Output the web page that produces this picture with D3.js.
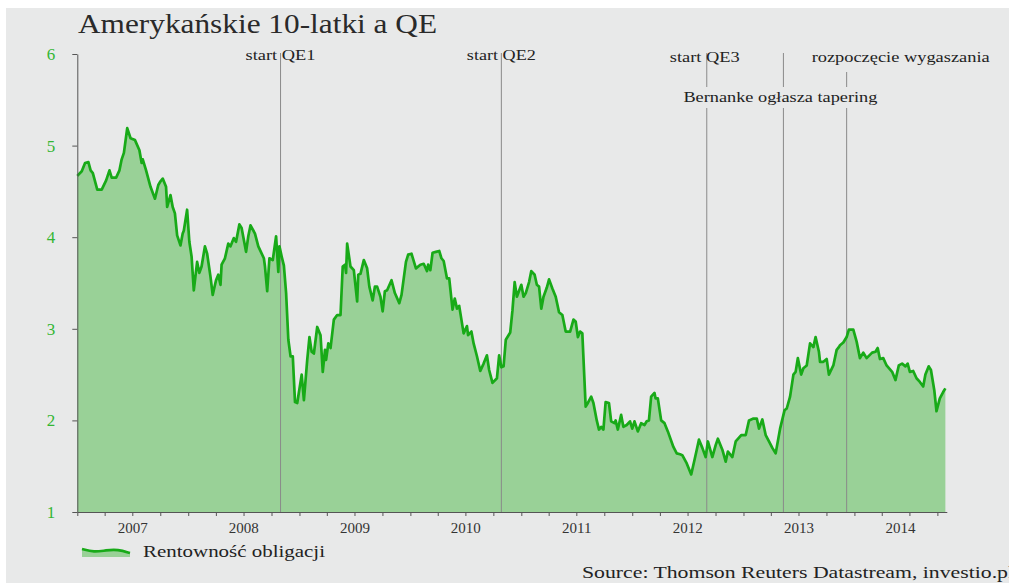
<!DOCTYPE html>
<html>
<head>
<meta charset="utf-8">
<script src="https://cdn.jsdelivr.net/npm/d3@7"></script>
<style>
  html, body { margin: 0; padding: 0; background: #fff; overflow: hidden; }
  svg { display: block; }
  text { font-family: "Liberation Serif", "DejaVu Serif", serif; }
</style>
</head>
<body>
<div id="chart"></div>
<script>
// Amerykańskie 10-latki a QE - US 10Y yield, weekly-ish readings (decimal year)

const dates = [
  2007.00, 2007.04, 2007.07, 2007.10, 2007.12, 2007.14, 2007.18, 2007.22, 2007.26, 2007.29,
  2007.31, 2007.35, 2007.38, 2007.40, 2007.42, 2007.45, 2007.48, 2007.52, 2007.56, 2007.58,
  2007.59, 2007.62, 2007.66, 2007.70, 2007.73, 2007.75, 2007.77, 2007.80, 2007.81, 2007.84,
  2007.86, 2007.88, 2007.90, 2007.93, 2007.95, 2007.96, 2007.99, 2008.01, 2008.03, 2008.05,
  2008.08, 2008.10, 2008.12, 2008.15, 2008.17, 2008.20, 2008.22, 2008.25, 2008.27, 2008.29,
  2008.30, 2008.33, 2008.36, 2008.38, 2008.41, 2008.43, 2008.46, 2008.48, 2008.52, 2008.54,
  2008.56, 2008.60, 2008.63, 2008.68, 2008.69, 2008.71, 2008.73, 2008.76, 2008.79, 2008.81,
  2008.82, 2008.84, 2008.86, 2008.88, 2008.90, 2008.92, 2008.94, 2008.96, 2008.98, 2009.02,
  2009.04, 2009.07, 2009.09, 2009.11, 2009.13, 2009.16, 2009.19, 2009.21, 2009.23, 2009.24,
  2009.26, 2009.28, 2009.31, 2009.34, 2009.37, 2009.39, 2009.41, 2009.42, 2009.43, 2009.46,
  2009.49, 2009.52, 2009.53, 2009.55, 2009.58, 2009.61, 2009.63, 2009.66, 2009.68, 2009.70,
  2009.73, 2009.75, 2009.77, 2009.79, 2009.83, 2009.86, 2009.90, 2009.92, 2009.96, 2009.98,
  2010.01, 2010.05, 2010.09, 2010.12, 2010.15, 2010.16, 2010.18, 2010.20, 2010.23, 2010.26,
  2010.28, 2010.30, 2010.33, 2010.35, 2010.38, 2010.40, 2010.42, 2010.44, 2010.48, 2010.51,
  2010.52, 2010.55, 2010.57, 2010.60, 2010.63, 2010.66, 2010.69, 2010.71, 2010.74, 2010.78,
  2010.80, 2010.82, 2010.84, 2010.86, 2010.90, 2010.92, 2010.94, 2010.96, 2011.00, 2011.02,
  2011.04, 2011.07, 2011.09, 2011.12, 2011.14, 2011.16, 2011.18, 2011.20, 2011.23, 2011.25,
  2011.28, 2011.31, 2011.34, 2011.37, 2011.40, 2011.44, 2011.47, 2011.49, 2011.51, 2011.53,
  2011.55, 2011.58, 2011.60, 2011.63, 2011.65, 2011.68, 2011.70, 2011.72, 2011.74, 2011.76,
  2011.79, 2011.81, 2011.84, 2011.85, 2011.87, 2011.90, 2011.92, 2011.95, 2011.98, 2012.00,
  2012.02, 2012.05, 2012.08, 2012.11, 2012.13, 2012.15, 2012.17, 2012.20, 2012.21, 2012.23,
  2012.26, 2012.29, 2012.32, 2012.37, 2012.40, 2012.43, 2012.45, 2012.49, 2012.53, 2012.56,
  2012.58, 2012.60, 2012.63, 2012.66, 2012.68, 2012.72, 2012.75, 2012.77, 2012.81, 2012.84,
  2012.86, 2012.90, 2012.93, 2012.98, 2013.02, 2013.05, 2013.09, 2013.12, 2013.14, 2013.17,
  2013.20, 2013.23, 2013.26, 2013.29, 2013.33, 2013.37, 2013.39, 2013.42, 2013.45, 2013.47,
  2013.49, 2013.52, 2013.54, 2013.57, 2013.60, 2013.63, 2013.65, 2013.68, 2013.69, 2013.72,
  2013.75, 2013.77, 2013.81, 2013.84, 2013.86, 2013.87, 2013.90, 2013.93, 2013.95, 2013.99,
  2014.02, 2014.05, 2014.08, 2014.11, 2014.16, 2014.19, 2014.21, 2014.23, 2014.26, 2014.29,
  2014.34, 2014.37, 2014.40, 2014.43, 2014.46, 2014.48, 2014.50, 2014.53, 2014.56, 2014.59,
  2014.62, 2014.64, 2014.67, 2014.69, 2014.72, 2014.74, 2014.77, 2014.80, 2014.82
];

const yields = [
  4.67, 4.72, 4.81, 4.82, 4.73, 4.70, 4.52, 4.52, 4.62, 4.73,
  4.65, 4.65, 4.73, 4.85, 4.92, 5.19, 5.08, 5.06, 4.95, 4.81,
  4.85, 4.73, 4.55, 4.42, 4.57, 4.61, 4.64, 4.55, 4.33, 4.46,
  4.33, 4.26, 4.02, 3.91, 4.04, 4.07, 4.30, 3.95, 3.79, 3.42,
  3.73, 3.61, 3.68, 3.90, 3.82, 3.57, 3.37, 3.53, 3.59, 3.48,
  3.70, 3.77, 3.93, 3.90, 3.99, 3.95, 4.14, 4.10, 3.84, 4.01,
  4.13, 4.04, 3.90, 3.77, 3.68, 3.41, 3.77, 3.75, 4.01, 3.62,
  3.90, 3.79, 3.69, 3.39, 2.88, 2.70, 2.70, 2.20, 2.19, 2.50,
  2.22, 2.66, 2.91, 2.75, 2.73, 3.02, 2.93, 2.53, 2.77, 2.66,
  2.84, 2.79, 3.10, 3.15, 3.15, 3.68, 3.70, 3.61, 3.93, 3.68,
  3.64, 3.30, 3.59, 3.60, 3.75, 3.66, 3.46, 3.31, 3.46, 3.46,
  3.35, 3.19, 3.41, 3.42, 3.53, 3.39, 3.28, 3.37, 3.73, 3.81,
  3.82, 3.66, 3.70, 3.71, 3.63, 3.70, 3.64, 3.83, 3.84, 3.85,
  3.77, 3.74, 3.55, 3.55, 3.21, 3.33, 3.22, 3.25, 2.95, 3.03,
  2.93, 2.97, 2.84, 2.70, 2.54, 2.62, 2.71, 2.55, 2.41, 2.46,
  2.71, 2.58, 2.59, 2.88, 2.96, 3.20, 3.51, 3.35, 3.48, 3.35,
  3.39, 3.51, 3.63, 3.59, 3.48, 3.46, 3.22, 3.35, 3.45, 3.54,
  3.44, 3.35, 3.18, 3.15, 2.97, 2.97, 3.10, 3.08, 2.91, 2.97,
  2.95, 2.15, 2.19, 2.26, 2.19, 2.00, 1.90, 1.93, 1.90, 2.20,
  2.19, 1.99, 1.97, 2.00, 1.90, 2.06, 1.93, 1.95, 1.99, 1.91,
  1.99, 1.88, 1.97, 1.95, 1.99, 2.00, 2.26, 2.30, 2.24, 2.24,
  2.00, 1.97, 1.88, 1.71, 1.64, 1.63, 1.62, 1.53, 1.41, 1.57,
  1.68, 1.79, 1.70, 1.60, 1.77, 1.60, 1.73, 1.80, 1.68, 1.55,
  1.66, 1.60, 1.77, 1.84, 1.84, 2.00, 2.02, 2.02, 1.91, 2.01,
  1.84, 1.77, 1.70, 1.64, 1.91, 2.11, 2.13, 2.26, 2.50, 2.53,
  2.68, 2.50, 2.57, 2.60, 2.84, 2.80, 2.91, 2.75, 2.64, 2.64,
  2.67, 2.50, 2.60, 2.77, 2.80, 2.82, 2.85, 2.91, 2.99, 2.99,
  2.86, 2.68, 2.74, 2.68, 2.74, 2.75, 2.79, 2.67, 2.68, 2.60,
  2.53, 2.44, 2.60, 2.62, 2.59, 2.62, 2.53, 2.54, 2.46, 2.42,
  2.37, 2.50, 2.59, 2.55, 2.33, 2.10, 2.24, 2.31, 2.35
];

const eventLabels = ["start QE1", "start QE2", "start QE3", "Bernanke ogłasza tapering", "rozpoczęcie wygaszania"];
const eventDates = [2008.83, 2010.82, 2012.67, 2013.36, 2013.93];

const yTicks = [1, 2, 3, 4, 5, 6];
const yearLabels = ["2007", "2008", "2009", "2010", "2011", "2012", "2013", "2014"];

const title = "Amerykańskie 10-latki a QE";
const legendLabel = "Rentowność obligacji";
const sourceLabel = "Source: Thomson Reuters Datastream, investio.pl";

// decimal year -> Date
function toDate(d) {
    const y = Math.floor(d);
    const a = new Date(y, 0, 1), b = new Date(y + 1, 0, 1);
    return new Date(+a + (d - y) * (b - a));
}

const W = 1009, H = 583;
const bg = "#e8e9e9";
const lineColor = "#18aa18";
const fillColor = "#99d197";

const svg = d3.select("#chart").append("svg")
    .attr("width", W)
    .attr("height", H);

svg.append("rect")
    .attr("x", 6).attr("y", 8)
    .attr("width", W - 6).attr("height", H - 8)
    .attr("fill", bg);

const x = d3.scaleTime()
    .domain([new Date(2007, 0, 1), new Date(2014, 10, 1)])
    .range([77.3, 946.8]);

const y = d3.scaleLinear()
    .domain([1, 6])
    .range([512, 54]);

const data = dates.map((d, i) => ({date: toDate(d), value: yields[i]}));

// title
svg.append("text")
    .attr("x", 78)
    .attr("y", 33)
    .attr("fill", "#2a2a2a")
    .attr("textLength", 359)
    .attr("lengthAdjust", "spacingAndGlyphs")
    .style("font-size", "27px")
    .text(title);

// area + line
const area = d3.area()
    .x(d => x(d.date))
    .y0(y(1))
    .y1(d => y(d.value));

const line = d3.line()
    .x(d => x(d.date))
    .y(d => y(d.value));

svg.append("path")
    .datum(data)
    .attr("d", area)
    .attr("fill", fillColor);

// event lines
const evG = svg.append("g");
eventDates.forEach((d, i) => {
    const top = i === 4 ? 72 : 53;
    evG.append("line")
        .attr("x1", x(toDate(d))).attr("x2", x(toDate(d)))
        .attr("y1", top).attr("y2", y(1))
        .attr("stroke", "#8a8a8a")
        .attr("stroke-width", 1);
});

svg.append("path")
    .datum(data)
    .attr("d", line)
    .attr("fill", "none")
    .attr("stroke", lineColor)
    .attr("stroke-width", 2.7)
    .attr("stroke-linejoin", "round");

// gap behind the Bernanke label
svg.append("rect")
    .attr("x", 680).attr("y", 87)
    .attr("width", 200).attr("height", 21)
    .attr("fill", bg);

const evLabelPos = [
    {dx: 0, y: 60, w: 70},
    {dx: 0, y: 60, w: 69},
    {dx: -2, y: 62, w: 70},
    {dx: -3, y: 102, w: 194},
    {dx: 54, y: 62, w: 178}
];
eventDates.forEach((d, i) => {
    svg.append("text")
        .attr("x", x(toDate(d)) + evLabelPos[i].dx)
        .attr("y", evLabelPos[i].y)
        .attr("text-anchor", "middle")
        .attr("fill", "#222")
        .attr("textLength", evLabelPos[i].w)
        .attr("lengthAdjust", "spacingAndGlyphs")
        .style("font-size", "14px")
        .text(eventLabels[i]);
});

// y axis
const yAxis = svg.append("g")
    .attr("transform", "translate(77.3,0)")
    .call(d3.axisLeft(y).tickValues(yTicks).tickSize(5).tickSizeOuter(0).tickFormat(d3.format("d")));
yAxis.select(".domain").attr("stroke", "#555");
yAxis.selectAll(".tick line").attr("stroke", "#555");
yAxis.selectAll(".tick text")
    .attr("x", -22)
    .attr("fill", "#33b633")
    .style("font-family", "'Liberation Serif', serif")
    .style("font-size", "17px");

// x axis, quarterly ticks
const quarters = d3.timeMonth.every(3).range(new Date(2007, 0, 1), new Date(2014, 10, 2));
const xAxis = svg.append("g")
    .attr("transform", `translate(0,${y(1)})`)
    .call(d3.axisBottom(x).tickValues(quarters).tickSize(4).tickSizeOuter(0).tickFormat(""));
xAxis.select(".domain").attr("stroke", "#555").attr("stroke-width", 1.2);
xAxis.selectAll(".tick line").attr("stroke", "#555");

// year labels centred on the visible part of each year
const [d0, d1] = x.domain();
yearLabels.forEach(lbl => {
    const yr = +lbl;
    const a = Math.max(+new Date(yr, 0, 1), +d0);
    const b = Math.min(+new Date(yr + 1, 0, 1), +d1);
    svg.append("text")
        .attr("x", (x(new Date(a)) + x(new Date(b))) / 2)
        .attr("y", 533)
        .attr("text-anchor", "middle")
        .attr("fill", "#333")
        .style("font-size", "15px")
        .text(lbl);
});

// legend
const lg = svg.append("g").attr("transform", "translate(82,545)");
const lx = d3.scaleLinear().domain([0, 4]).range([0, 48]);
const ly = d3.scaleLinear().domain([0, 1]).range([10, 2]);
const legendWave = [0.75, 0.35, 0.6, 0.7, 0.25];
lg.append("path")
    .datum(legendWave)
    .attr("d", d3.area().x((d, i) => lx(i)).y0(12).y1(d => ly(d)).curve(d3.curveBasis))
    .attr("fill", fillColor);
lg.append("path")
    .datum(legendWave)
    .attr("d", d3.line().x((d, i) => lx(i)).y(d => ly(d)).curve(d3.curveBasis))
    .attr("fill", "none")
    .attr("stroke", lineColor)
    .attr("stroke-width", 2.6);
svg.append("text")
    .attr("x", 143)
    .attr("y", 557)
    .attr("fill", "#222")
    .attr("textLength", 182)
    .attr("lengthAdjust", "spacingAndGlyphs")
    .style("font-size", "16px")
    .text(legendLabel);

// source
svg.append("text")
    .attr("x", 582)
    .attr("y", 578)
    .attr("fill", "#222")
    .attr("textLength", 432)
    .attr("lengthAdjust", "spacingAndGlyphs")
    .style("font-size", "17px")
    .text(sourceLabel);
</script>
</body>
</html>
